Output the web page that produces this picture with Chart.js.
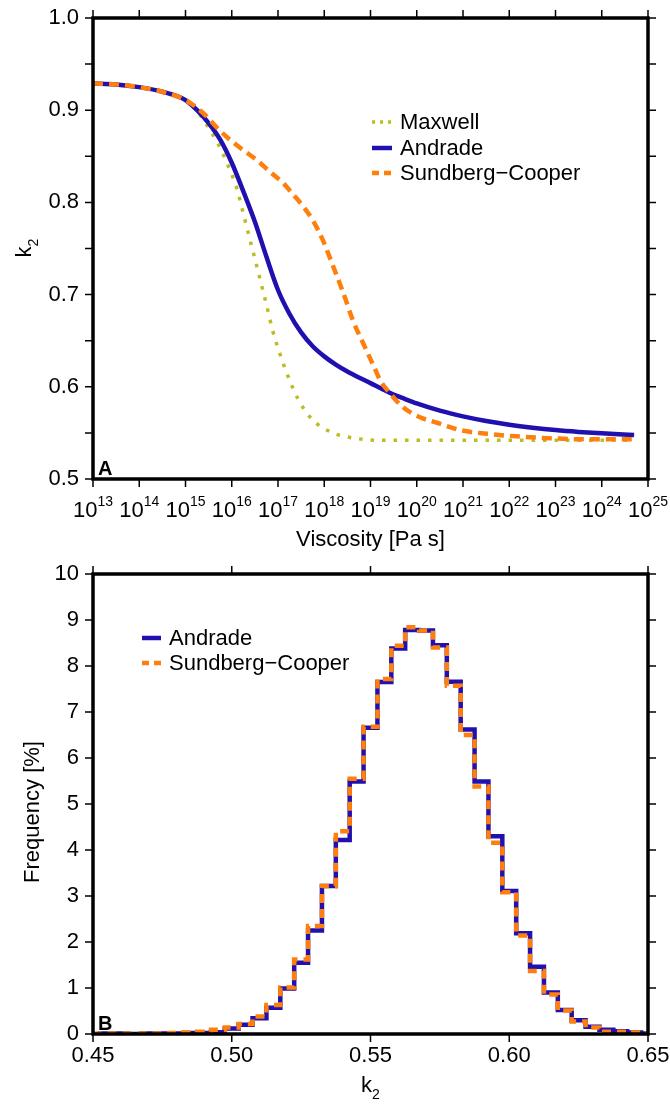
<!DOCTYPE html>
<html><head><meta charset="utf-8">
<script src="https://cdn.jsdelivr.net/npm/chart.js@4.4.1/dist/chart.umd.min.js"></script>
<style>
html,body{margin:0;padding:0;background:#fff;}
canvas{display:block;}
</style></head>
<body>
<canvas id="c1" width="670" height="555"></canvas>
<canvas id="c2" width="670" height="551"></canvas>
<script>
// ---------- Panel A data ----------
const viscosityTickExponents = [13,14,15,16,17,18,19,20,21,22,23,24,25];
const k2TickValuesA = [0.5,0.6,0.7,0.8,0.9,1.0];
const k2MinorTicksA = [0.5,0.55,0.6,0.65,0.7,0.75,0.8,0.85,0.9,0.95,1.0];

const maxwellLogEta = [13,13.5,14,14.5,15,15.25,15.42,15.7,15.92,16.11,16.24,16.37,16.5,16.63,16.76,16.89,17.04,17.22,17.43,17.73,18.19,18.69,19.16,20,21,22,23,24,24.7];
const maxwellK2     = [0.929,0.928,0.925,0.920,0.911,0.899,0.887,0.864,0.840,0.815,0.790,0.764,0.739,0.713,0.687,0.660,0.636,0.611,0.587,0.565,0.550,0.544,0.542,0.542,0.542,0.542,0.542,0.542,0.542];

const andradeLogEta = [13,13.5,14,14.5,15,15.25,15.5,15.75,16.0,16.25,16.5,16.75,17.0,17.25,17.5,17.75,18.0,18.25,18.5,18.75,19.0,19.25,19.5,19.75,20.0,20.5,21.0,21.5,22.0,22.5,23.0,23.5,24.0,24.7];
const andradeK2     = [0.929,0.928,0.925,0.920,0.911,0.900,0.886,0.868,0.843,0.812,0.779,0.741,0.705,0.679,0.659,0.644,0.633,0.624,0.6165,0.610,0.604,0.5977,0.5917,0.5867,0.5820,0.5741,0.5679,0.5629,0.5589,0.5557,0.5531,0.5511,0.5495,0.5477];

const scLogEta = [13,13.5,14,14.5,15,15.38,15.68,15.96,16.24,16.54,16.83,17.11,17.32,17.54,17.76,17.97,18.19,18.41,18.62,18.88,19.1,19.21,19.42,19.7,20.07,20.44,20.94,21.52,22.23,22.95,23.68,24.7];
const scK2     = [0.929,0.928,0.925,0.920,0.911,0.897,0.881,0.868,0.857,0.846,0.833,0.821,0.809,0.796,0.780,0.759,0.731,0.702,0.672,0.643,0.619,0.607,0.593,0.578,0.567,0.561,0.553,0.549,0.546,0.544,0.543,0.543];

// ---------- Panel B data ----------
const binCenters = [0.450,0.455,0.460,0.465,0.470,0.475,0.480,0.485,0.490,0.495,0.500,0.505,0.510,0.515,0.520,0.525,0.530,0.535,0.540,0.545,0.550,0.555,0.560,0.565,0.570,0.575,0.580,0.585,0.590,0.595,0.600,0.605,0.610,0.615,0.620,0.625,0.630,0.635,0.640,0.645,0.650];
const andradeFreq = [0.00,0.01,0.01,0.00,0.01,0.01,0.01,0.02,0.02,0.04,0.12,0.20,0.34,0.57,0.99,1.55,2.25,3.22,4.22,5.49,6.66,7.65,8.38,8.78,8.77,8.45,7.66,6.62,5.49,4.30,3.11,2.19,1.46,0.90,0.52,0.30,0.16,0.09,0.06,0.03,0.01];
const scFreq      = [0.00,0.01,0.01,0.01,0.01,0.01,0.02,0.03,0.05,0.09,0.14,0.22,0.38,0.63,1.01,1.62,2.35,3.22,4.41,5.55,6.68,7.72,8.44,8.84,8.77,8.40,7.57,6.50,5.38,4.16,3.08,2.14,1.37,0.86,0.51,0.27,0.14,0.05,0.05,0.03,0.01];
const k2TickValuesB = [0.45,0.50,0.55,0.60,0.65];
const freqTickValues = [0,1,2,3,4,5,6,7,8,9,10];

// ---------- styles ----------
const FONT = 'Liberation Sans, Arial, Helvetica, sans-serif';
const FS = 22;
const C_MAX = '#bcbd22', C_AND = '#2010b0', C_SC = '#ff7f0e';

function pts(xs, ys){ return xs.map((x,i)=>({x:x, y:ys[i]})); }

function drawFrameAndTicks(chart, xVals, yVals){
  const ctx = chart.ctx, a = chart.chartArea;
  const xs = chart.scales.x, ys = chart.scales.y;
  const L = 8;
  ctx.save();
  ctx.strokeStyle = '#000';
  ctx.lineWidth = 1.5;
  ctx.beginPath();
  xVals.forEach(v=>{
    const p = xs.getPixelForValue(v);
    ctx.moveTo(p, a.bottom); ctx.lineTo(p, a.bottom + L);
    ctx.moveTo(p, a.top); ctx.lineTo(p, a.top - L);
  });
  yVals.forEach(v=>{
    const p = ys.getPixelForValue(v);
    ctx.moveTo(a.left, p); ctx.lineTo(a.left - L, p);
    ctx.moveTo(a.right, p); ctx.lineTo(a.right + L, p);
  });
  ctx.stroke();
  ctx.lineWidth = 3.5;
  ctx.strokeRect(a.left, a.top, a.right - a.left, a.bottom - a.top);
  ctx.restore();
}

function drawK2(ctx, cx, baseline, size){
  const ss = Math.round(size*0.65);
  ctx.font = size + 'px ' + FONT;
  const wk = ctx.measureText('k').width;
  ctx.font = ss + 'px ' + FONT;
  const w2 = ctx.measureText('2').width;
  const x0 = cx - (wk + w2)/2;
  ctx.textAlign = 'left'; ctx.textBaseline = 'alphabetic';
  ctx.font = size + 'px ' + FONT;
  ctx.fillText('k', x0, baseline);
  ctx.font = ss + 'px ' + FONT;
  ctx.fillText('2', x0 + wk, baseline + size*0.3);
}

function legendLine(ctx, x1, x2, y, color, width, dash){
  ctx.save();
  ctx.strokeStyle = color; ctx.lineWidth = width; ctx.setLineDash(dash); ctx.lineCap = 'butt';
  ctx.beginPath(); ctx.moveTo(x1, y); ctx.lineTo(x2, y); ctx.stroke();
  ctx.restore();
}

const panelAPlugin = {
  id: 'panelA',
  afterDraw(chart){
    const ctx = chart.ctx, a = chart.chartArea, xs = chart.scales.x;
    drawFrameAndTicks(chart, viscosityTickExponents, k2MinorTicksA);
    ctx.save();
    ctx.fillStyle = '#000';
    viscosityTickExponents.forEach(e=>{
      const p = xs.getPixelForValue(e);
      ctx.font = FS + 'px ' + FONT;
      const wb = ctx.measureText('10').width;
      ctx.font = '14px ' + FONT;
      const we = ctx.measureText(String(e)).width;
      const x0 = p - (wb + we)/2;
      ctx.textAlign = 'left'; ctx.textBaseline = 'alphabetic';
      ctx.font = FS + 'px ' + FONT;
      ctx.fillText('10', x0, a.bottom + 38);
      ctx.font = '14px ' + FONT;
      ctx.fillText(String(e), x0 + wb, a.bottom + 27);
    });
    ctx.font = FS + 'px ' + FONT; ctx.textAlign = 'center'; ctx.textBaseline = 'alphabetic';
    ctx.fillText('Viscosity [Pa s]', (a.left + a.right)/2, a.bottom + 67);
    ctx.save();
    ctx.translate(31, 248);
    ctx.rotate(-Math.PI/2);
    drawK2(ctx, 0, 0, FS);
    ctx.restore();
    ctx.font = 'bold 20px ' + FONT; ctx.textAlign = 'left'; ctx.textBaseline = 'alphabetic';
    ctx.fillText('A', a.left + 5, a.bottom - 4);
    const items = [
      ['Maxwell', C_MAX, 3.5, [3,5], 122],
      ['Andrade', C_AND, 4.5, [], 148],
      ['Sundberg\u2212Cooper', C_SC, 4.5, [7,5], 173]
    ];
    items.forEach(it=>{
      legendLine(ctx, 372, 392, it[4], it[1], it[2], it[3]);
      ctx.fillStyle = '#000';
      ctx.font = FS + 'px ' + FONT; ctx.textAlign = 'left'; ctx.textBaseline = 'middle';
      ctx.fillText(it[0], 400, it[4] + 1);
    });
    ctx.restore();
  }
};

const panelBPlugin = {
  id: 'panelB',
  afterDraw(chart){
    const ctx = chart.ctx, a = chart.chartArea;
    drawFrameAndTicks(chart, k2TickValuesB, freqTickValues);
    ctx.save();
    ctx.fillStyle = '#000';
    drawK2(ctx, (a.left + a.right)/2, a.bottom + 58, FS);
    ctx.save();
    ctx.translate(39, 812 - 555);
    ctx.rotate(-Math.PI/2);
    ctx.font = FS + 'px ' + FONT; ctx.textAlign = 'center'; ctx.textBaseline = 'alphabetic';
    ctx.fillText('Frequency [%]', 0, 0);
    ctx.restore();
    ctx.font = 'bold 20px ' + FONT; ctx.textAlign = 'left'; ctx.textBaseline = 'alphabetic';
    ctx.fillText('B', a.left + 5, a.bottom - 4);
    const items = [
      ['Andrade', C_AND, 4.5, [], 638 - 555],
      ['Sundberg\u2212Cooper', C_SC, 4.5, [7,5], 663 - 555]
    ];
    items.forEach(it=>{
      legendLine(ctx, 142, 161, it[4], it[1], it[2], it[3]);
      ctx.fillStyle = '#000';
      ctx.font = FS + 'px ' + FONT; ctx.textAlign = 'left'; ctx.textBaseline = 'middle';
      ctx.fillText(it[0], 169, it[4] + 1);
    });
    ctx.restore();
  }
};

const baseOpts = {
  responsive: false, animation: false, events: [],
  plugins: { legend: { display: false }, tooltip: { enabled: false } },
  elements: { point: { radius: 0 } }
};

function fixY(s){ s.width = 93; s.paddingTop = 0; s.paddingBottom = 0; }

new Chart(document.getElementById('c1'), {
  type: 'line',
  data: { datasets: [
    { label: 'Sundberg\u2212Cooper', data: pts(scLogEta, scK2), borderColor: C_SC, borderWidth: 4.5, borderDash: [10,6], cubicInterpolationMode: 'monotone', fill: false, order: 1 },
    { label: 'Andrade', data: pts(andradeLogEta, andradeK2), borderColor: C_AND, borderWidth: 4.5, cubicInterpolationMode: 'monotone', fill: false, order: 2 },
    { label: 'Maxwell', data: pts(maxwellLogEta, maxwellK2), borderColor: C_MAX, borderWidth: 3.5, borderDash: [3.5,8], cubicInterpolationMode: 'monotone', fill: false, order: 3 }
  ]},
  options: Object.assign({}, baseOpts, {
    layout: { padding: { left: 0, top: 18, right: 22, bottom: 0 } },
    scales: {
      x: { type: 'linear', min: 13, max: 25,
           grid: { display: false, drawTicks: false }, border: { display: false },
           ticks: { display: false },
           afterFit: s => { s.height = 76; s.paddingLeft = 0; s.paddingRight = 0; } },
      y: { type: 'linear', min: 0.5, max: 1.0,
           grid: { display: false, drawTicks: false }, border: { display: false },
           afterBuildTicks: s => { s.ticks = k2TickValuesA.map(v => ({ value: v })); },
           ticks: { color: '#000', padding: 14, font: { family: FONT, size: FS }, callback: v => Number(v).toFixed(1) },
           afterFit: fixY }
    }
  }),
  plugins: [panelAPlugin]
});

new Chart(document.getElementById('c2'), {
  type: 'line',
  data: { datasets: [
    { label: 'Sundberg\u2212Cooper', data: pts(binCenters, scFreq), borderColor: C_SC, borderWidth: 4.5, borderDash: [9,6], stepped: 'middle', fill: false, order: 1 },
    { label: 'Andrade', data: pts(binCenters, andradeFreq), borderColor: C_AND, borderWidth: 4.5, stepped: 'middle', fill: false, order: 2 }
  ]},
  options: Object.assign({}, baseOpts, {
    layout: { padding: { left: 0, top: 19, right: 22, bottom: 0 } },
    scales: {
      x: { type: 'linear', min: 0.45, max: 0.65,
           grid: { display: false, drawTicks: false }, border: { display: false },
           afterBuildTicks: s => { s.ticks = k2TickValuesB.map(v => ({ value: v })); },
           ticks: { color: '#000', padding: 9, maxRotation: 0, font: { family: FONT, size: FS }, callback: v => Number(v).toFixed(2) },
           afterFit: s => { s.height = 72; s.paddingLeft = 0; s.paddingRight = 0; } },
      y: { type: 'linear', min: 0, max: 10,
           grid: { display: false, drawTicks: false }, border: { display: false },
           afterBuildTicks: s => { s.ticks = freqTickValues.map(v => ({ value: v })); },
           ticks: { color: '#000', padding: 14, font: { family: FONT, size: FS }, callback: v => String(v) },
           afterFit: fixY }
    }
  }),
  plugins: [panelBPlugin]
});
</script>
</body></html>
